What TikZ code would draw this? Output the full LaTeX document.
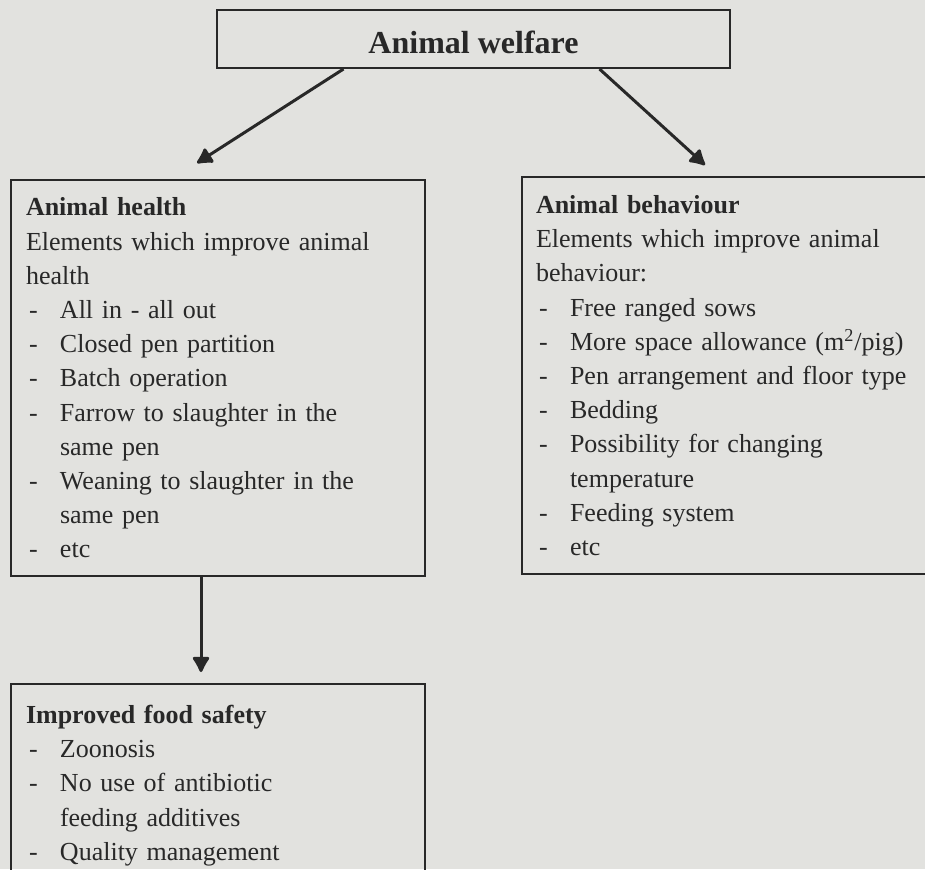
\documentclass[tikz,border=0pt]{standalone}
\usepackage{fontspec}
\setmainfont{Liberation Serif}
\usetikzlibrary{positioning,arrows.meta}
\definecolor{paper}{RGB}{226,226,223}
\definecolor{ink}{RGB}{40,40,40}
\newcommand{\itm}{\makebox[17pt][l]{\hspace{1.5pt}-}}
\newcommand{\cont}{\hspace*{17pt}}

\begin{document}
\begin{tikzpicture}[x=0.5pt, y=-0.5pt,
  topbox/.style={draw=ink, text=ink, line width=1pt, minimum width=256.5pt,
    minimum height=29pt, text height=14pt, text depth=0pt,
    font=\fontsize{16}{19}\selectfont\bfseries},
  listbox/.style={draw=ink, text=ink, line width=1pt, anchor=north west,
    align=left, inner xsep=7.5pt, font=\fontsize{13}{17.1}\selectfont},
  arr/.style={draw=ink, line width=1.5pt, -{Latex[length=9pt,width=10pt,round]}}]
  \useasboundingbox (0,0) rectangle (925,869);
  \fill[paper] (0,0) rectangle (925,869);
  \clip (0,0) rectangle (925,869);
  \node[topbox] (welfare) at (473.5,39) {Animal welfare};
  \node[listbox, text width=192pt, minimum height=198pt] (health) at (10,179) {%
    \textbf{Animal health}\\
    Elements which improve animal\\
    health\\
    \itm All in - all out\\
    \itm Closed pen partition\\
    \itm Batch operation\\
    \itm Farrow to slaughter in the\\
    \cont same pen\\
    \itm Weaning to slaughter in the\\
    \cont same pen\\
    \itm etc};
  \node[listbox, text width=200pt, minimum height=198.5pt, inner xsep=7pt] (behaviour) at (521,176) {%
    \textbf{Animal behaviour}\\
    Elements which improve animal\\
    behaviour:\\
    \itm Free ranged sows\\
    \itm More space allowance (m\textsuperscript{2}/pig)\\
    \itm Pen arrangement and floor type\\
    \itm Bedding\\
    \itm Possibility for changing\\
    \cont temperature\\
    \itm Feeding system\\
    \itm etc};
  \node[listbox, text width=192pt, inner ysep=10.6pt] (safety) at (10,683) {%
    \textbf{Improved food safety}\\
    \itm Zoonosis\\
    \itm No use of antibiotic\\
    \cont feeding additives\\
    \itm Quality management};
  \draw[arr] ([xshift=-65pt]welfare.south) -- ([xshift=93.5pt,yshift=8pt]health.north west);
  \draw[arr] ([xshift=63pt]welfare.south) -- ([xshift=92pt,yshift=5.5pt]behaviour.north west);
  \draw[arr] ([xshift=95.5pt]health.south west) -- ([xshift=95.5pt,yshift=5.5pt]safety.north west);
\end{tikzpicture}
\end{document}
